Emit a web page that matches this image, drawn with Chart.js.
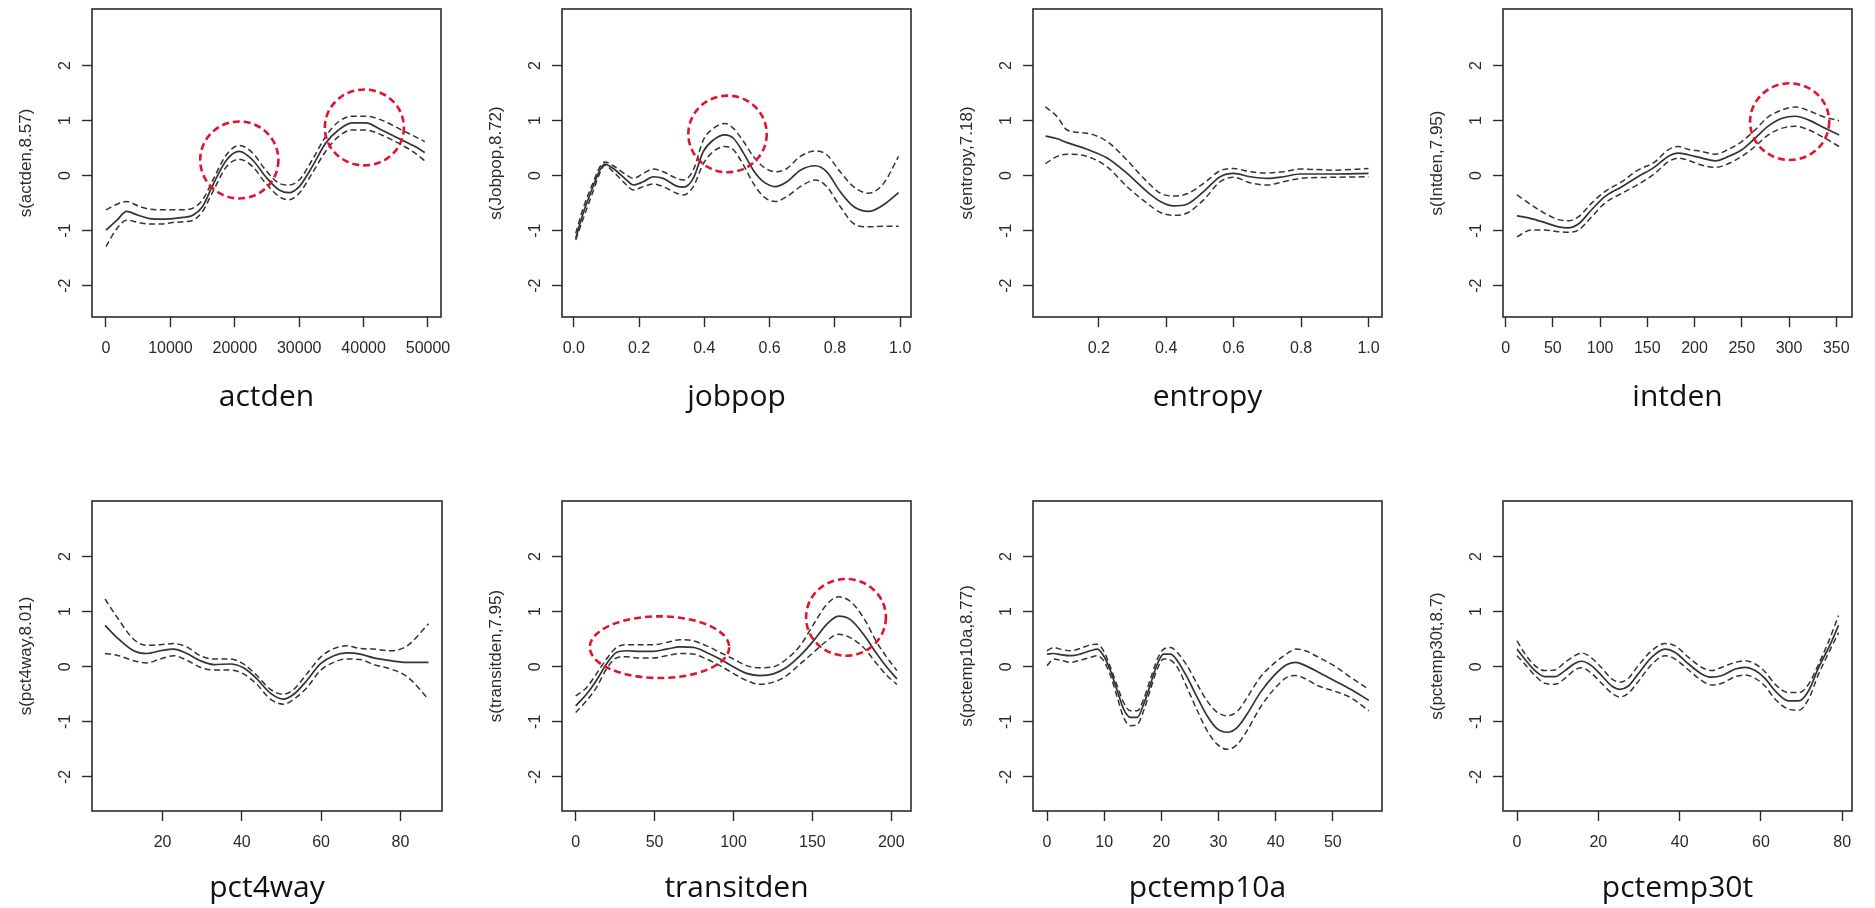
<!DOCTYPE html>
<html>
<head>
<meta charset="utf-8">
<title>Smooth terms</title>
<script src="https://cdn.jsdelivr.net/npm/chart.js@4.4.1/dist/chart.umd.min.js"></script>
<style>
  html, body { margin: 0; padding: 0; background: #fff; }
  body { position: relative; width: 1875px; height: 908px; overflow: hidden; }
  canvas { position: absolute; }
</style>
</head>
<body>
<script>
// y ticks shared by every panel
const yTicks = [-2, -1, 0, 1, 2];

// actden
const actdenX = [0, 1700, 3200, 5000, 6800, 8600, 10400, 12000, 13500, 15000, 16600, 18700, 20700, 22800, 24800, 26900, 28400, 30000, 32000, 34100, 36100, 38200, 40300, 42800, 45400, 48000, 49500];
const actdenFit = [-0.99, -0.81, -0.65, -0.72, -0.78, -0.79, -0.78, -0.76, -0.72, -0.56, -0.17, 0.28, 0.44, 0.28, -0.02, -0.26, -0.31, -0.2, 0.16, 0.59, 0.83, 0.96, 0.96, 0.83, 0.68, 0.53, 0.42];
const actdenUpper = [-0.62, -0.52, -0.47, -0.55, -0.61, -0.62, -0.62, -0.62, -0.59, -0.44, -0.08, 0.38, 0.55, 0.41, 0.1, -0.14, -0.17, -0.08, 0.28, 0.71, 0.98, 1.08, 1.08, 1.01, 0.86, 0.71, 0.62];
const actdenLower = [-1.29, -0.96, -0.81, -0.85, -0.88, -0.88, -0.85, -0.84, -0.81, -0.65, -0.29, 0.16, 0.3, 0.16, -0.14, -0.38, -0.44, -0.32, 0.04, 0.44, 0.71, 0.83, 0.83, 0.74, 0.59, 0.41, 0.27];
const actdenTicks = [0, 10000, 20000, 30000, 40000, 50000];
const actdenTickLabels = ['0', '10000', '20000', '30000', '40000', '50000'];
const actdenRings = [{ x: 20700, y: 0.285, rx: 6070, ry: 0.70 }, { x: 40120, y: 0.876, rx: 6140, ry: 0.69 }];

// jobpop
const jobpopX = [0.006, 0.029, 0.059, 0.08, 0.095, 0.121, 0.162, 0.182, 0.213, 0.243, 0.274, 0.315, 0.336, 0.366, 0.397, 0.428, 0.463, 0.489, 0.52, 0.55, 0.581, 0.617, 0.653, 0.694, 0.74, 0.775, 0.816, 0.857, 0.903, 0.949, 0.995];
const jobpopFit = [-1.14, -0.68, -0.2, 0.1, 0.21, 0.13, -0.08, -0.17, -0.11, -0.02, -0.05, -0.19, -0.21, -0.05, 0.44, 0.65, 0.74, 0.68, 0.41, 0.1, -0.11, -0.2, -0.11, 0.1, 0.18, 0.07, -0.29, -0.56, -0.65, -0.53, -0.31];
const jobpopUpper = [-1.05, -0.59, -0.13, 0.16, 0.25, 0.18, 0.01, -0.05, 0.04, 0.12, 0.07, -0.05, -0.08, 0.1, 0.65, 0.86, 0.95, 0.86, 0.62, 0.35, 0.16, 0.07, 0.13, 0.35, 0.45, 0.38, 0.07, -0.2, -0.32, -0.14, 0.35];
const jobpopLower = [-1.17, -0.78, -0.29, 0.05, 0.19, 0.07, -0.17, -0.26, -0.2, -0.15, -0.2, -0.32, -0.35, -0.2, 0.22, 0.44, 0.53, 0.47, 0.19, -0.14, -0.38, -0.47, -0.38, -0.2, -0.08, -0.2, -0.56, -0.87, -0.93, -0.92, -0.92];
const jobpopTicks = [0, 0.2, 0.4, 0.6, 0.8, 1.0];
const jobpopTickLabels = ['0.0', '0.2', '0.4', '0.6', '0.8', '1.0'];
const jobpopRings = [{ x: 0.471, y: 0.758, rx: 0.120, ry: 0.697 }];

// entropy
const entropyX = [0.042, 0.077, 0.106, 0.165, 0.225, 0.284, 0.343, 0.383, 0.422, 0.462, 0.511, 0.56, 0.6, 0.649, 0.699, 0.748, 0.798, 0.896, 1.0];
const entropyFit = [0.72, 0.67, 0.6, 0.48, 0.32, 0.04, -0.29, -0.47, -0.55, -0.52, -0.29, -0.02, 0.04, -0.02, -0.05, -0.02, 0.03, 0.03, 0.04];
const entropyUpper = [1.25, 1.07, 0.83, 0.77, 0.62, 0.28, -0.11, -0.32, -0.37, -0.33, -0.14, 0.09, 0.13, 0.07, 0.05, 0.07, 0.12, 0.1, 0.13];
const entropyLower = [0.22, 0.35, 0.39, 0.35, 0.16, -0.2, -0.5, -0.67, -0.72, -0.68, -0.44, -0.11, -0.03, -0.13, -0.17, -0.11, -0.05, -0.03, -0.02];
const entropyTicks = [0.2, 0.4, 0.6, 0.8, 1.0];
const entropyTickLabels = ['0.2', '0.4', '0.6', '0.8', '1.0'];
const entropyRings = [];

// intden
const intdenX = [12, 27, 41, 56, 66, 77, 91, 105, 123, 140, 158, 172, 183, 193, 208, 222, 236, 250, 264, 278, 292, 307, 321, 335, 353];
const intdenFit = [-0.73, -0.78, -0.85, -0.93, -0.95, -0.88, -0.62, -0.38, -0.2, -0.02, 0.16, 0.35, 0.41, 0.38, 0.32, 0.27, 0.35, 0.47, 0.68, 0.9, 1.04, 1.08, 1.01, 0.89, 0.74];
const intdenUpper = [-0.35, -0.53, -0.68, -0.8, -0.82, -0.75, -0.5, -0.29, -0.11, 0.1, 0.25, 0.47, 0.53, 0.48, 0.44, 0.39, 0.48, 0.62, 0.83, 1.07, 1.19, 1.25, 1.18, 1.08, 1.0];
const intdenLower = [-1.11, -0.99, -0.99, -1.02, -1.03, -0.99, -0.75, -0.5, -0.32, -0.16, 0.04, 0.25, 0.32, 0.28, 0.19, 0.15, 0.22, 0.35, 0.53, 0.74, 0.86, 0.9, 0.83, 0.71, 0.53];
const intdenTicks = [0, 50, 100, 150, 200, 250, 300, 350];
const intdenTickLabels = ['0', '50', '100', '150', '200', '250', '300', '350'];
const intdenRings = [{ x: 300.7, y: 0.982, rx: 41.9, ry: 0.697 }];

// pct4way
const pct4wayX = [5.5, 8.5, 12.7, 16.0, 19.4, 22.8, 26.1, 29.5, 32.9, 37.1, 40.4, 43.8, 47.2, 50.5, 53.1, 56.4, 59.8, 63.2, 66.5, 69.9, 73.3, 77.5, 81.7, 87.1];
const pct4wayFit = [0.75, 0.53, 0.29, 0.24, 0.29, 0.32, 0.24, 0.11, 0.04, 0.05, -0.02, -0.22, -0.48, -0.59, -0.5, -0.25, 0.05, 0.2, 0.25, 0.23, 0.16, 0.11, 0.08, 0.08];
const pct4wayUpper = [1.23, 0.9, 0.5, 0.39, 0.4, 0.42, 0.36, 0.2, 0.14, 0.14, 0.05, -0.16, -0.41, -0.5, -0.41, -0.13, 0.17, 0.33, 0.38, 0.33, 0.32, 0.29, 0.38, 0.78];
const pct4wayLower = [0.24, 0.21, 0.11, 0.07, 0.14, 0.2, 0.12, -0.01, -0.06, -0.06, -0.13, -0.32, -0.59, -0.68, -0.59, -0.38, -0.07, 0.08, 0.14, 0.13, 0.04, -0.04, -0.18, -0.59];
const pct4wayTicks = [20, 40, 60, 80];
const pct4wayTickLabels = ['20', '40', '60', '80'];
const pct4wayRings = [];

// transitden
const transitdenX = [0, 6.8, 13.1, 19.5, 25.8, 32.2, 40.6, 49.1, 57.6, 66.0, 74.5, 82.9, 91.4, 99.9, 108.3, 116.8, 125.3, 133.7, 142.2, 150.7, 159.1, 166.5, 173.9, 182.4, 190.9, 197.2, 203.6];
const transitdenFit = [-0.71, -0.5, -0.25, 0.05, 0.26, 0.29, 0.28, 0.28, 0.32, 0.36, 0.35, 0.26, 0.14, 0.0, -0.12, -0.16, -0.13, -0.01, 0.2, 0.47, 0.77, 0.92, 0.86, 0.59, 0.23, -0.01, -0.22];
const transitdenUpper = [-0.53, -0.38, -0.13, 0.14, 0.35, 0.4, 0.4, 0.4, 0.44, 0.49, 0.47, 0.38, 0.26, 0.14, 0.02, -0.02, 0.0, 0.14, 0.38, 0.77, 1.13, 1.27, 1.19, 0.89, 0.44, 0.17, -0.07];
const transitdenLower = [-0.83, -0.62, -0.38, -0.04, 0.16, 0.18, 0.16, 0.16, 0.2, 0.24, 0.23, 0.14, 0.02, -0.12, -0.25, -0.32, -0.28, -0.16, 0.05, 0.26, 0.47, 0.59, 0.53, 0.35, 0.05, -0.16, -0.32];
const transitdenTicks = [0, 50, 100, 150, 200];
const transitdenTickLabels = ['0', '50', '100', '150', '200'];
const transitdenRings = [{ x: 53.1, y: 0.355, rx: 44.2, ry: 0.56 }, { x: 171.3, y: 0.897, rx: 25.3, ry: 0.697 }];

// pctemp10a
const pctemp10aX = [0, 1.2, 2.3, 4.1, 5.8, 7.6, 8.8, 9.9, 11.1, 12.3, 13.4, 14.6, 15.8, 16.9, 18.1, 19.3, 20.4, 21.6, 22.8, 24.5, 26.3, 28.0, 29.8, 31.5, 33.3, 35.0, 37.3, 39.7, 42.0, 43.5, 45.2, 47.5, 50.2, 53.1, 56.3];
const pctemp10aFit = [0.23, 0.24, 0.22, 0.2, 0.23, 0.29, 0.32, 0.2, -0.07, -0.44, -0.77, -0.92, -0.92, -0.68, -0.32, 0.05, 0.23, 0.23, 0.11, -0.19, -0.56, -0.89, -1.13, -1.19, -1.1, -0.86, -0.47, -0.16, 0.04, 0.08, 0.02, -0.1, -0.25, -0.41, -0.61];
const pctemp10aUpper = [0.29, 0.35, 0.32, 0.29, 0.33, 0.4, 0.41, 0.29, -0.01, -0.35, -0.65, -0.8, -0.8, -0.59, -0.22, 0.14, 0.32, 0.35, 0.26, 0.02, -0.32, -0.62, -0.83, -0.89, -0.81, -0.56, -0.19, 0.06, 0.24, 0.32, 0.29, 0.17, 0.02, -0.19, -0.41];
const pctemp10aLower = [0.02, 0.14, 0.12, 0.08, 0.12, 0.17, 0.2, 0.11, -0.16, -0.56, -0.92, -1.07, -1.05, -0.8, -0.41, -0.04, 0.14, 0.12, -0.01, -0.38, -0.8, -1.16, -1.41, -1.5, -1.41, -1.16, -0.74, -0.41, -0.19, -0.16, -0.22, -0.35, -0.44, -0.56, -0.8];
const pctemp10aTicks = [0, 10, 20, 30, 40, 50];
const pctemp10aTickLabels = ['0', '10', '20', '30', '40', '50'];
const pctemp10aRings = [];

// pctemp30t
const pctemp30tX = [0, 1.9, 4.4, 6.8, 9.3, 11.8, 14.2, 15.9, 18.3, 20.8, 23.3, 25.3, 27.4, 29.8, 33.1, 36.4, 38.9, 42.2, 45.4, 47.9, 50.4, 53.7, 56.1, 58.6, 61.1, 63.5, 66.8, 69.3, 71.7, 74.2, 76.7, 79.1];
const pctemp30tFit = [0.32, 0.14, -0.07, -0.18, -0.18, -0.07, 0.06, 0.1, 0.02, -0.16, -0.35, -0.41, -0.35, -0.13, 0.17, 0.32, 0.26, 0.05, -0.13, -0.19, -0.16, -0.04, -0.01, -0.07, -0.22, -0.44, -0.62, -0.62, -0.44, -0.01, 0.35, 0.75];
const pctemp30tUpper = [0.47, 0.24, 0.02, -0.07, -0.06, 0.08, 0.2, 0.25, 0.16, -0.02, -0.22, -0.28, -0.21, 0.02, 0.29, 0.42, 0.38, 0.17, -0.01, -0.07, -0.01, 0.08, 0.11, 0.05, -0.1, -0.32, -0.47, -0.47, -0.32, 0.05, 0.47, 0.93];
const pctemp30tLower = [0.2, 0.05, -0.16, -0.3, -0.32, -0.21, -0.06, -0.02, -0.12, -0.3, -0.48, -0.55, -0.48, -0.27, 0.04, 0.2, 0.14, -0.06, -0.25, -0.33, -0.3, -0.18, -0.15, -0.21, -0.36, -0.59, -0.77, -0.79, -0.59, -0.13, 0.26, 0.62];
const pctemp30tTicks = [0, 20, 40, 60, 80];
const pctemp30tTickLabels = ['0', '20', '40', '60', '80'];
const pctemp30tRings = [];

const tickFont = '"Liberation Sans", Arial, sans-serif';
const titleFont = '"Open Sans", "Noto Sans", sans-serif';
const yAxisWidth = 92;
const xAxisHeight = 100;

// box = [left, top, width, height] of the plot frame on the page
const panels = [
  { name: 'actden', yTitle: 's(actden,8.57)', x: actdenX, fit: actdenFit, upper: actdenUpper, lower: actdenLower,
    xMin: -2170, xMax: 52020, ticks: actdenTicks, labels: actdenTickLabels, rings: actdenRings,
    box: [92, 9, 349, 308], yMin: -2.57, yMax: 3.03, titlePad: 2 },
  { name: 'jobpop', yTitle: 's(Jobpop,8.72)', x: jobpopX, fit: jobpopFit, upper: jobpopUpper, lower: jobpopLower,
    xMin: -0.036, xMax: 1.033, ticks: jobpopTicks, labels: jobpopTickLabels, rings: jobpopRings,
    box: [562, 9, 349, 308], yMin: -2.57, yMax: 3.03, titlePad: 2 },
  { name: 'entropy', yTitle: 's(entropy,7.18)', x: entropyX, fit: entropyFit, upper: entropyUpper, lower: entropyLower,
    xMin: 0.005, xMax: 1.04, ticks: entropyTicks, labels: entropyTickLabels, rings: entropyRings,
    box: [1033, 9, 349, 308], yMin: -2.57, yMax: 3.03, titlePad: 2 },
  { name: 'intden', yTitle: 's(Intden,7.95)', x: intdenX, fit: intdenFit, upper: intdenUpper, lower: intdenLower,
    xMin: -2.8, xMax: 366.7, ticks: intdenTicks, labels: intdenTickLabels, rings: intdenRings,
    box: [1503, 9, 349, 308], yMin: -2.57, yMax: 3.03, titlePad: 2 },
  { name: 'pct4way', yTitle: 's(pct4way,8.01)', x: pct4wayX, fit: pct4wayFit, upper: pct4wayUpper, lower: pct4wayLower,
    xMin: 2.2, xMax: 90.5, ticks: pct4wayTicks, labels: pct4wayTickLabels, rings: pct4wayRings,
    box: [92, 501, 350, 310], yMin: -2.62, yMax: 3.01, titlePad: 5 },
  { name: 'transitden', yTitle: 's(transitden,7.95)', x: transitdenX, fit: transitdenFit, upper: transitdenUpper, lower: transitdenLower,
    xMin: -8.7, xMax: 212.5, ticks: transitdenTicks, labels: transitdenTickLabels, rings: transitdenRings,
    box: [562, 501, 349, 310], yMin: -2.62, yMax: 3.01, titlePad: 5 },
  { name: 'pctemp10a', yTitle: 's(pctemp10a,8.77)', x: pctemp10aX, fit: pctemp10aFit, upper: pctemp10aUpper, lower: pctemp10aLower,
    xMin: -2.45, xMax: 58.6, ticks: pctemp10aTicks, labels: pctemp10aTickLabels, rings: pctemp10aRings,
    box: [1033, 501, 349, 310], yMin: -2.62, yMax: 3.01, titlePad: 5 },
  { name: 'pctemp30t', yTitle: 's(pctemp30t,8.7)', x: pctemp30tX, fit: pctemp30tFit, upper: pctemp30tUpper, lower: pctemp30tLower,
    xMin: -3.45, xMax: 82.4, ticks: pctemp30tTicks, labels: pctemp30tTickLabels, rings: pctemp30tRings,
    box: [1503, 501, 349, 310], yMin: -2.62, yMax: 3.01, titlePad: 5 }
];

// frame around the plotting region, like R's box()
const moldura = {
  id: 'moldura',
  afterDraw(chart) {
    const { ctx, chartArea: a } = chart;
    ctx.save();
    ctx.strokeStyle = '#2b2b2b';
    ctx.lineWidth = 1.6;
    ctx.strokeRect(a.left, a.top, a.right - a.left, a.bottom - a.top);
    ctx.restore();
  }
};

// red dashed highlight rings, given in data units
function aneis(lista) {
  return {
    id: 'aneis',
    afterDatasetsDraw(chart) {
      const { ctx, scales: { x, y } } = chart;
      ctx.save();
      ctx.strokeStyle = '#e5122d';
      ctx.lineWidth = 2.6;
      ctx.setLineDash([7, 4]);
      lista.forEach(function (r) {
        const cx = x.getPixelForValue(r.x);
        const cy = y.getPixelForValue(r.y);
        const rx = Math.abs(x.getPixelForValue(r.x + r.rx) - cx);
        const ry = Math.abs(y.getPixelForValue(r.y + r.ry) - cy);
        ctx.beginPath();
        ctx.ellipse(cx, cy, rx, ry, 0, 0, Math.PI * 2);
        ctx.stroke();
      });
      ctx.restore();
    }
  };
}

function linha(xs, ys, dash, width) {
  return {
    data: xs.map((x, i) => ({ x: x, y: ys[i] })),
    borderColor: '#333',
    borderWidth: width,
    borderDash: dash,
    pointRadius: 0,
    fill: false,
    cubicInterpolationMode: 'monotone'
  };
}

function eixoGrade() {
  return { display: true, drawOnChartArea: false, drawTicks: true, tickLength: 10, tickColor: '#2b2b2b', tickWidth: 1.4 };
}

function criarPainel(p) {
  const [left, top, w, h] = p.box;
  const canvas = document.createElement('canvas');
  canvas.width = w + yAxisWidth + 30;
  canvas.height = h + 25 + xAxisHeight;
  canvas.style.left = (left - yAxisWidth) + 'px';
  canvas.style.top = (top - 25) + 'px';
  document.body.appendChild(canvas);

  new Chart(canvas, {
    type: 'line',
    data: {
      datasets: [
        linha(p.x, p.fit, [], 1.7),
        linha(p.x, p.upper, [6, 3.5], 1.5),
        linha(p.x, p.lower, [6, 3.5], 1.5)
      ]
    },
    options: {
      responsive: false,
      animation: false,
      devicePixelRatio: 1,
      layout: { padding: { top: 25, right: 30, bottom: 0, left: 0 } },
      plugins: { legend: { display: false }, tooltip: { enabled: false } },
      scales: {
        x: {
          type: 'linear',
          position: 'bottom',
          bounds: 'data',
          min: p.xMin,
          max: p.xMax,
          afterBuildTicks: s => { s.ticks = p.ticks.map(v => ({ value: v })); },
          afterFit: s => { s.height = xAxisHeight; },
          grid: eixoGrade(),
          border: { display: false },
          ticks: {
            autoSkip: false, minRotation: 0, maxRotation: 0, padding: 12,
            color: '#2a2a2a', font: { family: tickFont, size: 16 },
            callback: (v, i) => p.labels[i]
          },
          title: {
            display: true, text: p.name, color: '#111',
            font: { family: titleFont, size: 30 },
            padding: { top: 0, bottom: p.titlePad }
          }
        },
        y: {
          type: 'linear',
          position: 'left',
          min: p.yMin,
          max: p.yMax,
          afterBuildTicks: s => { s.ticks = yTicks.map(v => ({ value: v })); },
          afterFit: s => { s.width = yAxisWidth; },
          grid: eixoGrade(),
          border: { display: false },
          ticks: {
            minRotation: 90, maxRotation: 90, crossAlign: 'center', padding: 9,
            color: '#2a2a2a', font: { family: tickFont, size: 16 },
            callback: v => String(v)
          },
          title: {
            display: true, text: p.yTitle, color: '#2a2a2a',
            font: { family: tickFont, size: 17 },
            padding: { top: 16.5, bottom: 0 }
          }
        }
      }
    },
    plugins: [moldura, aneis(p.rings)]
  });
}

panels.forEach(criarPainel);
</script>
</body>
</html>
